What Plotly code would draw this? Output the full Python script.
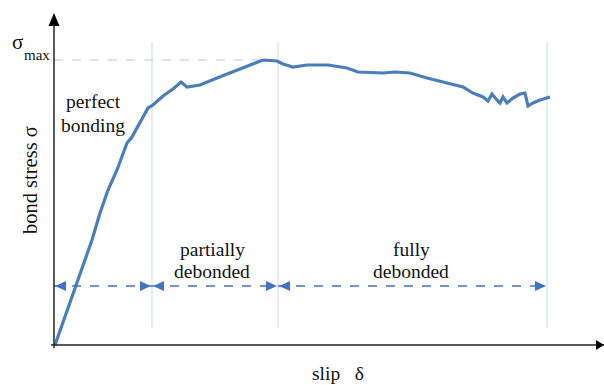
import plotly.graph_objects as go

# Bond stress–slip curve (arbitrary units)
slip = [0.01, 0.20, 0.38, 0.46, 0.54, 0.63, 0.73, 0.78, 0.86, 0.94, 0.99, 1.09,
        1.19, 1.27, 1.33, 1.46, 1.63, 1.79, 1.96, 2.09, 2.23, 2.29, 2.39, 2.53,
        2.74, 2.93, 3.04, 3.29, 3.41, 3.56, 3.73, 3.93, 4.09, 4.19, 4.29, 4.34,
        4.38, 4.43, 4.46, 4.49, 4.53, 4.59, 4.66, 4.71, 4.74, 4.79, 4.86, 4.96]
stress = [0.0, 2.75, 5.25, 6.6, 7.75, 8.75, 10.1, 10.4, 11.1, 11.85, 12.0, 12.45,
          12.8, 13.15, 12.9, 13.0, 13.35, 13.65, 14.0, 14.25, 14.2, 14.05, 13.9, 14.0,
          14.0, 13.85, 13.65, 13.6, 13.65, 13.6, 13.35, 13.1, 12.9, 12.6, 12.4, 12.2,
          12.55, 12.25, 12.1, 12.4, 12.1, 12.35, 12.55, 12.6, 11.95, 12.1, 12.25, 12.4]

sigma_max = 14.25
sigma_max_end = 2.11            # where the sigma_max guide stops
stage_bounds = [0.0, 0.98, 2.24, 4.93]   # stage boundaries along slip
bound_top, bound_bottom = 15.15, 0.85
arrow_level = 2.95
stage_labels = [("perfect", "bonding"), ("partially", "debonded"), ("fully", "debonded")]
stage_label_x = [0.39, 1.58, 3.57]
stage_label_y = [(12.2, 11.0), (4.8, 3.7), (4.8, 3.7)]

X_RANGE = [0, 5.5]
Y_RANGE = [0, 16.6]

FONT = "Liberation Serif"
CURVE = "#4A7EBB"
GUIDE = "#C9D9EE"
ARROW = "#4472C4"
AXIS = "#222222"
TEXT = "#111111"

fig = go.Figure()
fig.add_trace(go.Scatter(x=slip, y=stress, mode="lines",
                         line=dict(color=CURVE, width=3.2), cliponaxis=False,
                         hoverinfo="skip", showlegend=False))

shapes = []
# stage boundary verticals
for xb in stage_bounds[1:]:
    shapes.append(dict(type="line", xref="x", yref="y", x0=xb, x1=xb,
                       y0=bound_bottom, y1=bound_top,
                       line=dict(color=GUIDE, width=1), layer="below"))
# sigma_max guide
shapes.append(dict(type="line", xref="x", yref="y", x0=0, x1=sigma_max_end,
                   y0=sigma_max, y1=sigma_max,
                   line=dict(color="#B4C7E7", width=1.2, dash="dash"), layer="below"))

# double-headed dashed arrows for each stage
for a, b in zip(stage_bounds[:-1], stage_bounds[1:]):
    shapes.append(dict(type="line", xref="x", yref="y", x0=a, x1=b,
                       y0=arrow_level, y1=arrow_level,
                       line=dict(color=ARROW, width=1.3, dash="dash")))
    # left-pointing head at a, right-pointing head at b
    shapes.append(dict(type="path", xref="x", yref="y", xsizemode="pixel",
                       ysizemode="pixel", xanchor=a + 0.01, yanchor=arrow_level,
                       path="M0,0 L11,5 L11,-5 Z", fillcolor=ARROW,
                       line=dict(width=0)))
    shapes.append(dict(type="path", xref="x", yref="y", xsizemode="pixel",
                       ysizemode="pixel", xanchor=b - 0.01, yanchor=arrow_level,
                       path="M0,0 L-11,5 L-11,-5 Z", fillcolor=ARROW,
                       line=dict(width=0)))

# axes with arrowheads
shapes.append(dict(type="line", xref="paper", yref="paper", x0=-3 / 550, x1=1,
                   y0=0, y1=0, line=dict(color=AXIS, width=1.5)))
shapes.append(dict(type="line", xref="paper", yref="paper", x0=0, x1=0,
                   y0=-3 / 332, y1=0.97, line=dict(color=AXIS, width=1.5)))
shapes.append(dict(type="path", xref="paper", yref="paper", xsizemode="pixel",
                   ysizemode="pixel", xanchor=0, yanchor=1,
                   path="M0,0 L-5.5,-13 L5.5,-13 Z", fillcolor="black",
                   line=dict(width=0)))
shapes.append(dict(type="path", xref="paper", yref="paper", xsizemode="pixel",
                   ysizemode="pixel", xanchor=1, yanchor=0,
                   path="M0,0 L-8,5 L-8,-5 Z", fillcolor="black",
                   line=dict(width=0)))

annotations = []
for (l1, l2), lx, (y1, y2) in zip(stage_labels, stage_label_x, stage_label_y):
    for txt, yy in ((l1, y1), (l2, y2)):
        annotations.append(dict(x=lx, y=yy, xref="x", yref="y", text=txt,
                                showarrow=False, xanchor="center", yanchor="middle",
                                font=dict(family=FONT, size=19.5, color=TEXT)))

# axis labels sit outside the plotting area, so they use paper coordinates
annotations.append(dict(x=-0.0655, y=0.9127, xref="paper", yref="paper", text="σ",
                        showarrow=False, xanchor="center", yanchor="middle",
                        font=dict(family=FONT, size=21, color=TEXT)))
annotations.append(dict(x=-0.0318, y=0.872, xref="paper", yref="paper", text="max",
                        showarrow=False, xanchor="center", yanchor="middle",
                        font=dict(family=FONT, size=15, color=TEXT)))
annotations.append(dict(x=-0.0436, y=0.497, xref="paper", yref="paper",
                        text="bond stress σ", textangle=-90, showarrow=False,
                        xanchor="center", yanchor="middle",
                        font=dict(family=FONT, size=20.5, color=TEXT)))
annotations.append(dict(x=0.516, y=-0.085, xref="paper", yref="paper",
                        text="slip\u00a0\u00a0\u00a0δ", showarrow=False,
                        xanchor="center", yanchor="middle",
                        font=dict(family=FONT, size=19.5, color=TEXT)))

fig.update_layout(
    width=604, height=385, autosize=False,
    margin=dict(l=54, r=0, t=13, b=40),
    paper_bgcolor="white", plot_bgcolor="white",
    xaxis=dict(range=X_RANGE, visible=False, fixedrange=True),
    yaxis=dict(range=Y_RANGE, visible=False, fixedrange=True),
    shapes=shapes, annotations=annotations, showlegend=False,
)

fig.write_html("out.html")
